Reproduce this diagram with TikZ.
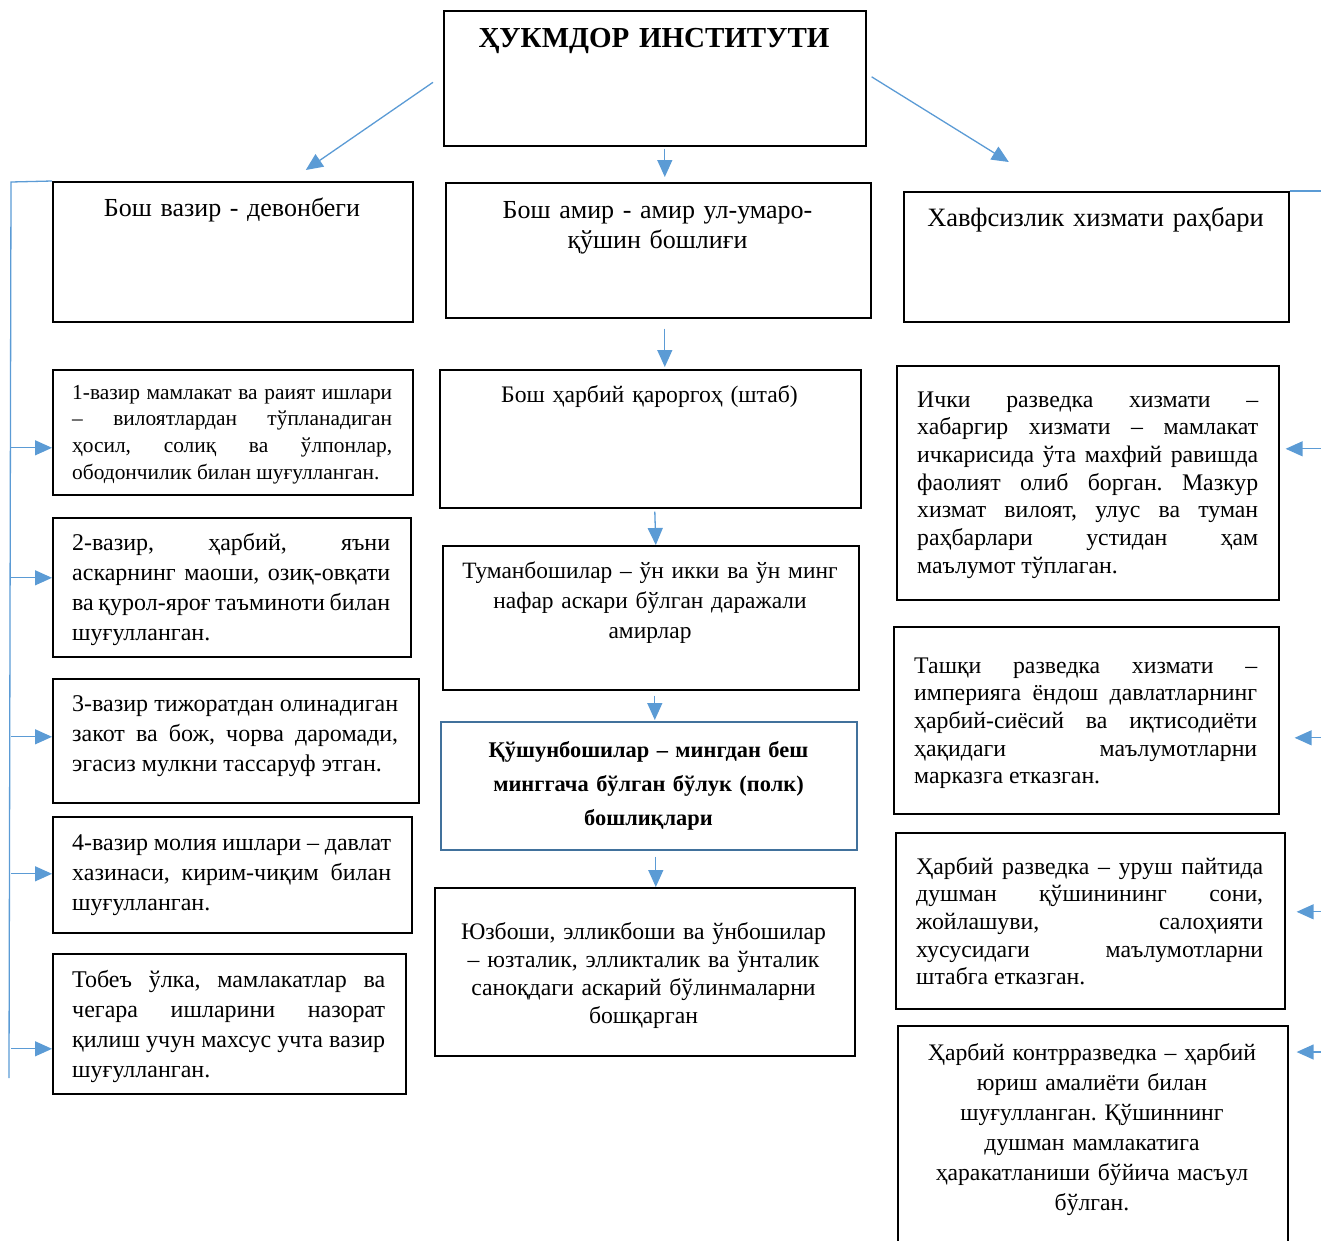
\documentclass[tikz,border=0pt]{standalone}
\usepackage{fontspec}
\setmainfont{Liberation Serif}
\usetikzlibrary{arrows.meta}
\definecolor{linkblue}{RGB}{91,155,213}
\definecolor{frameblue}{RGB}{65,113,156}
\hyphenpenalty=10000
\frenchspacing
\tikzset{
  box/.style={draw=black, line width=1.6pt, inner sep=0pt, anchor=north west},
  txt/.style={inner sep=0pt, anchor=base west, align=justify},
  ctxt/.style={inner sep=0pt, anchor=base, align=center},
  link/.style={draw=linkblue, line width=1.3pt},
  arr/.style={link, -{Triangle[length=17pt,width=15pt]}},
  head/.style={font=\fontsize{26}{30}\selectfont},
  mid/.style={font=\fontsize{24}{30}\selectfont},
  small/.style={font=\fontsize{23.8}{27.7}\selectfont}
}
\begin{document}
\begin{tikzpicture}[x=1pt,y=-1pt]
   \useasboundingbox (0,0) rectangle (1321,1240);

   % top
   \node[box, minimum width=422pt, minimum height=135pt] (title) at (443,10) {};
   \node[ctxt, text width=410pt, font=\bfseries\fontsize{29}{34}\selectfont] (titlet) at (654,47) {ҲУКМДОР ИНСТИТУТИ};

   % second row
   \node[box, minimum width=360pt, minimum height=140pt] (vazir) at (52,181) {};
   \node[ctxt, head, text width=340pt] (vazirt) at (232,216) {Бош вазир - девонбеги};
   \node[box, minimum width=425pt, minimum height=135pt] (amir) at (445,182) {};
   \node[ctxt, head, text width=400pt] (amirt) at (657.5,218) {Бош амир - амир ул-умаро-\\қўшин бошлиғи};
   \node[box, minimum width=385pt, minimum height=130pt] (havf) at (903,191) {};
   \node[ctxt, text width=375pt, font=\fontsize{26.5}{30}\selectfont] (havft) at (1095.5,226) {Хавфсизлик хизмати раҳбари};

   % centre column
   \node[box, minimum width=421pt, minimum height=138pt] (shtab) at (439,369) {};
   \node[ctxt, text width=390pt, font=\fontsize{23.7}{30}\selectfont] (shtabt) at (649.5,402) {Бош ҳарбий қароргоҳ (штаб)};
   \node[box, minimum width=416pt, minimum height=144pt] (tuman) at (442,545) {};
   \node[ctxt, text width=400pt, font=\fontsize{23.4}{30}\selectfont] (tumant) at (650,578) {Туманбошилар – ўн икки ва ўн минг\\нафар аскари бўлган даражали\\амирлар};
   \node[box, draw=frameblue, minimum width=416pt, minimum height=128pt] (qoshun) at (440,721) {};
   \node[ctxt, text width=390pt, font=\bfseries\fontsize{22.4}{34}\selectfont] (qoshunt) at (648.5,757) {Қўшунбошилар – мингдан беш\\минггача бўлган бўлук (полк)\\бошлиқлари};
   \node[box, minimum width=420pt, minimum height=168pt] (yuz) at (434,887) {};
   \node[ctxt, text width=410pt, font=\fontsize{23.7}{28}\selectfont] (yuzt) at (643.5,939) {Юзбоши, элликбоши ва ўнбошилар\\– юзталик, элликталик ва ўнталик\\саноқдаги аскарий бўлинмаларни\\бошқарган};

   % left column
   \node[box, minimum width=360pt, minimum height=125pt] (v1) at (52,369) {};
   \node[txt, text width=320pt, font=\fontsize{21.4}{26.7}\selectfont] (v1t) at (72,399) {1-вазир мамлакат ва раият ишлари\linebreak – вилоятлардан тўпланадиган\linebreak ҳосил, солиқ ва ўлпонлар,\linebreak ободончилик билан шуғулланган.};
   \node[box, minimum width=358pt, minimum height=139pt] (v2) at (52,517) {};
   \node[txt, mid, text width=318pt] (v2t) at (72,550) {2-вазир, ҳарбий, яъни\linebreak аскарнинг маоши, озиқ-овқати\linebreak ва қурол-яроғ таъминоти билан\linebreak шуғулланган.};
   \node[box, minimum width=366pt, minimum height=124pt] (v3) at (52,678) {};
   \node[txt, mid, text width=326pt] (v3t) at (72,711) {3-вазир тижоратдан олинадиган\linebreak закот ва бож, чорва даромади,\linebreak эгасиз мулкни тассаруф этган.};
   \node[box, minimum width=359pt, minimum height=116pt] (v4) at (52,816) {};
   \node[txt, mid, text width=319pt] (v4t) at (72,850) {4-вазир молия ишлари – давлат\linebreak хазинаси, кирим-чиқим билан\linebreak шуғулланган.};
   \node[box, minimum width=353pt, minimum height=140pt] (v5) at (52,953) {};
   \node[txt, mid, text width=313pt] (v5t) at (72,987) {Тобеъ ўлка, мамлакатлар ва\linebreak чегара ишларини назорат\linebreak қилиш учун махсус учта вазир\linebreak шуғулланган.};

   % right column
   \node[box, minimum width=382pt, minimum height=234pt] (ichki) at (896,365) {};
   \node[txt, small, text width=341pt] (ichkit) at (917,407) {Ички разведка хизмати –\linebreak хабаргир хизмати – мамлакат\linebreak ичкарисида ўта махфий равишда\linebreak фаолият олиб борган. Мазкур\linebreak хизмат вилоят, улус ва туман\linebreak раҳбарлари устидан ҳам\linebreak маълумот тўплаган.};
   \node[box, minimum width=385pt, minimum height=187pt] (tashqi) at (893,626) {};
   \node[txt, small, text width=343pt] (tashqit) at (914,673) {Ташқи разведка хизмати –\linebreak империяга ёндош давлатларнинг\linebreak ҳарбий-сиёсий ва иқтисодиёти\linebreak ҳақидаги маълумотларни\linebreak марказга етказган.};
   \node[box, minimum width=389pt, minimum height=176pt] (harbiy) at (895,832) {};
   \node[txt, small, text width=347pt] (harbiyt) at (916,874) {Ҳарбий разведка – уруш пайтида\linebreak душман қўшинининг сони,\linebreak жойлашуви, салоҳияти\linebreak хусусидаги маълумотларни\linebreak штабга етказган.};
   \node[box, minimum width=390pt, minimum height=240pt] (kontr) at (897,1025) {};
   \node[ctxt, text width=380pt, font=\fontsize{23.7}{30}\selectfont] (kontrt) at (1092,1060) {Ҳарбий контрразведка – ҳарбий\\юриш амалиёти билан\\шуғулланган. Қўшиннинг\\душман мамлакатига\\ҳаракатланиши бўйича масъул\\бўлган.};

   % arrows from the top box
   \draw[arr] ([xshift=-10pt,yshift=-4pt]title.west) -- ([xshift=73pt,yshift=11pt]vazir.north);
   \draw[arr] ([xshift=10pt,yshift=-2pt]title.south) -- ([xshift=6.5pt,yshift=5pt]amir.north);
   \draw[arr] ([xshift=5pt,yshift=1.5pt]title.east) -- ([xshift=-87.5pt,yshift=29pt]havf.north);

   % centre chain
   \draw[arr] ([xshift=6.5pt,yshift=-10pt]amir.south) -- ([xshift=14.5pt,yshift=2pt]shtab.north);
   \draw[arr] ([xshift=4.5pt,yshift=-3pt]shtab.south) -- ([xshift=5pt]tuman.north);
   \draw[arr] ([xshift=4pt,yshift=-5pt]tuman.south) -- ([xshift=6pt,yshift=1pt]qoshun.north);
   \draw[arr] ([xshift=7pt,yshift=-6pt]qoshun.south) -- ([xshift=11pt]yuz.north);

   % left bracket
   \coordinate (ltop) at (11,182);
   \coordinate (lbot) at (9,1078);
   \draw[link] (vazir.north west) -- (ltop) -- (lbot);
   \coordinate (a1) at ([yshift=-15.5pt]v1.west);
   \coordinate (a2) at ([yshift=9.5pt]v2.west);
   \coordinate (a3) at ([yshift=4pt]v3.west);
   \coordinate (a4) at ([yshift=1pt]v4.west);
   \coordinate (a5) at ([yshift=-25pt]v5.west);
   \draw[arr] (ltop |- a1) -- (a1);
   \draw[arr] (ltop |- a2) -- (a2);
   \draw[arr] (ltop |- a3) -- (a3);
   \draw[arr] (ltop |- a4) -- (a4);
   \draw[arr] (ltop |- a5) -- (a5);

   % right bracket
   \coordinate (rtop) at (1321,191);
   \draw[link] (havf.north east) -- (rtop);
   \coordinate (b1) at ([xshift=6pt,yshift=34pt]ichki.east);
   \coordinate (b2) at ([xshift=15pt,yshift=-17.5pt]tashqi.east);
   \coordinate (b3) at ([xshift=11pt,yshift=9pt]harbiy.east);
   \coordinate (b4) at ([xshift=8pt,yshift=-27pt]kontr.north east);
   \draw[arr] (rtop |- b1) -- (b1);
   \draw[arr] (rtop |- b2) -- (b2);
   \draw[arr] (rtop |- b3) -- (b3);
   \draw[arr] (rtop |- b4) -- (b4);
\end{tikzpicture}
\end{document}
